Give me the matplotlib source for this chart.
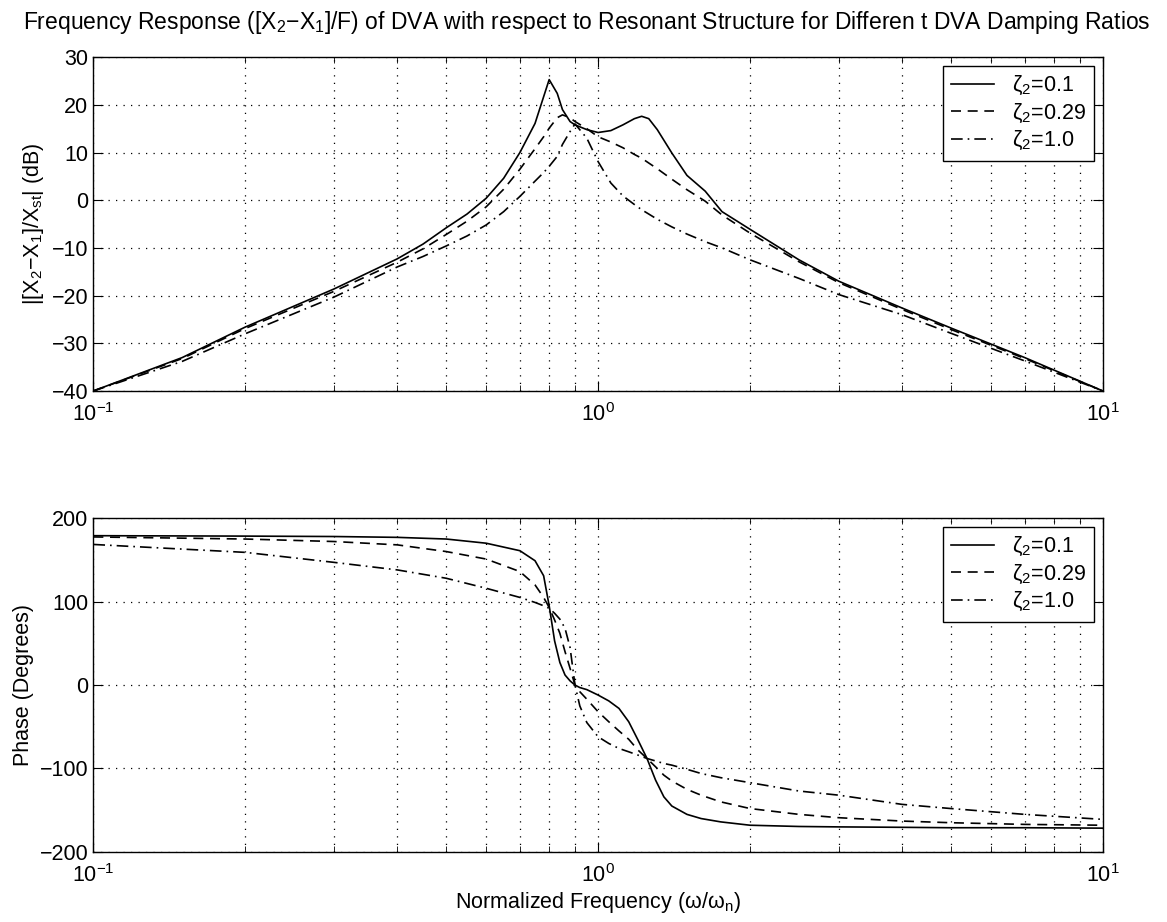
import matplotlib
matplotlib.use("Agg")
import matplotlib.pyplot as plt
from matplotlib.ticker import LogLocator, NullFormatter

plt.rcParams['font.family'] = ['Liberation Sans', 'DejaVu Sans']
plt.rcParams['mathtext.fontset'] = 'custom'
plt.rcParams['mathtext.rm'] = 'Liberation Sans'
plt.rcParams['mathtext.it'] = 'Liberation Sans:italic'
plt.rcParams['mathtext.default'] = 'regular'

# magnitude curves (dB)
freq_mag = [0.1, 0.15, 0.2, 0.3, 0.4, 0.45, 0.5, 0.55, 0.6, 0.65, 0.7, 0.75, 0.78,
            0.8, 0.83, 0.85, 0.88, 0.9, 0.95, 1.0, 1.06, 1.12, 1.18, 1.22, 1.26,
            1.31, 1.4, 1.5, 1.63, 1.76, 2.0, 2.5, 3.0, 4.0, 5.0, 7.0, 10.0]
mag_01 = [-40, -33.0, -26.6, -18.6, -12.3, -9.2, -5.8, -2.9, 0.4, 4.6, 10.0, 16.1, 21.7,
          25.3, 22.4, 19.0, 16.5, 15.8, 14.8, 14.2, 14.6, 15.8, 17.1, 17.6, 17.1,
          14.8, 9.9, 5.2, 1.9, -2.4, -6.1, -12.5, -17.0, -22.6, -26.8, -33.0, -40]
mag_029 = [-40, -33.2, -26.9, -19.1, -13.0, -10.2, -7.2, -4.4, -1.4, 2.3, 6.5, 10.8, 13.3,
           15.1, 17.3, 17.9, 17.3, 16.5, 15.0, 13.3, 12.2, 11.0, 9.6, 8.8, 7.8,
           6.6, 4.4, 2.2, -0.2, -3.1, -6.9, -12.9, -17.3, -22.9, -27.1, -33.2, -40]
mag_10 = [-40, -33.8, -28.0, -20.3, -14.0, -11.8, -9.6, -7.5, -5.2, -2.4, 0.8, 4.0, 5.8,
          7.1, 9.2, 11.7, 14.4, 16.0, 13.0, 8.1, 3.6, 0.9, -0.9, -2.0, -2.9,
          -4.0, -5.6, -7.1, -8.7, -10.0, -12.5, -16.4, -19.8, -24.0, -27.9, -33.7, -40]

# phase curves (degrees)
freq_ph = [0.1, 0.2, 0.3, 0.4, 0.5, 0.6, 0.7, 0.75, 0.78, 0.8, 0.82, 0.84, 0.86, 0.88,
           0.9, 0.92, 0.95, 1.0, 1.05, 1.1, 1.15, 1.2, 1.25, 1.3, 1.35, 1.4, 1.5,
           1.6, 1.75, 2.0, 2.5, 3.0, 4.0, 5.0, 7.0, 10.0]
ph_01 = [179, 178.5, 178, 177, 175, 170, 161, 149, 131, 95, 53, 27, 12, 5,
         0, -3, -5.5, -12, -19, -28, -44, -66, -88, -114, -134, -145, -155,
         -160, -164, -168, -169.5, -170, -170.5, -171, -171, -171.5]
ph_029 = [177.5, 175, 172, 168, 160, 151, 136, 120, 105, 93, 78, 62, 40, 20,
          0, -8, -17, -32, -44, -55, -65, -78, -88, -98, -108, -115, -125,
          -132, -140, -148, -155, -159, -163, -165, -167, -168]
ph_10 = [168.5, 159, 147, 138, 128, 116, 105, 99, 95, 92, 86, 79, 68, 45,
         0, -25, -45, -62, -70, -76, -80, -84, -88, -91, -94, -96, -101,
         -106, -111, -117, -127, -132, -143, -148, -155, -161]

labels = [r'$\zeta_2$=0.1', r'$\zeta_2$=0.29', r'$\zeta_2$=1.0']

fig = plt.figure(figsize=(11.67, 9.22), dpi=100)
ax1 = fig.add_axes([0.080, 0.576, 0.865, 0.362])
ax2 = fig.add_axes([0.080, 0.076, 0.865, 0.362])

fs = 15.5

def style(ax, lines_ax):
    ax.set_xscale('log')
    ax.set_xlim(0.1, 10)
    ax.xaxis.set_minor_locator(LogLocator(base=10, subs=range(2, 10)))
    ax.xaxis.set_minor_formatter(NullFormatter())
    ax.grid(True, which='major', color='black', linestyle=(0, (1, 5)), linewidth=0.9)
    ax.grid(True, which='minor', axis='x', color='black', linestyle=(0, (1, 5)), linewidth=0.9)
    ax.tick_params(which='both', direction='in', top=True, right=True, labelsize=fs)
    ax.tick_params(which='major', length=7)
    ax.tick_params(which='minor', length=4)
    ax.tick_params(axis='x', which='major', pad=9)
    for s in ax.spines.values():
        s.set_linewidth(1.0)
    leg = ax.legend(lines_ax, labels, loc='upper right', fontsize=fs, fancybox=False,
                    framealpha=1, edgecolor='black', handlelength=2.0,
                    borderaxespad=0.4, labelspacing=0.2)
    leg.get_frame().set_linewidth(1.0)

l1, = ax1.plot(freq_mag, mag_01, color='black', lw=1.2, linestyle='-')
l2, = ax1.plot(freq_mag, mag_029, color='black', lw=1.2, dashes=(6, 4))
l3, = ax1.plot(freq_mag, mag_10, color='black', lw=1.2, dashes=(7, 3, 1, 3))
ax1.set_ylim(-40, 30)
ax1.set_yticks(range(-40, 31, 10))
ax1.set_ylabel(r'|[X$_2$−X$_1$]/X$_{st}$| (dB)', fontsize=fs)
style(ax1, [l1, l2, l3])

m1, = ax2.plot(freq_ph, ph_01, color='black', lw=1.2, linestyle='-')
m2, = ax2.plot(freq_ph, ph_029, color='black', lw=1.2, dashes=(6, 4))
m3, = ax2.plot(freq_ph, ph_10, color='black', lw=1.2, dashes=(7, 3, 1, 3))
ax2.set_ylim(-200, 200)
ax2.set_yticks(range(-200, 201, 100))
ax2.set_ylabel('Phase (Degrees)', fontsize=fs)
ax2.set_xlabel(r'Normalized Frequency ($\omega$/$\omega_n$)', fontsize=fs, labelpad=2)
style(ax2, [m1, m2, m3])

fig.text(0.02, 0.99, 'Frequency Response ([X$_2$−X$_1$]/F) of DVA with respect to Resonant '
         'Structure for Differen t DVA Damping Ratios', fontsize=16.5, ha='left', va='top')

fig.savefig('out.png', dpi=100)
